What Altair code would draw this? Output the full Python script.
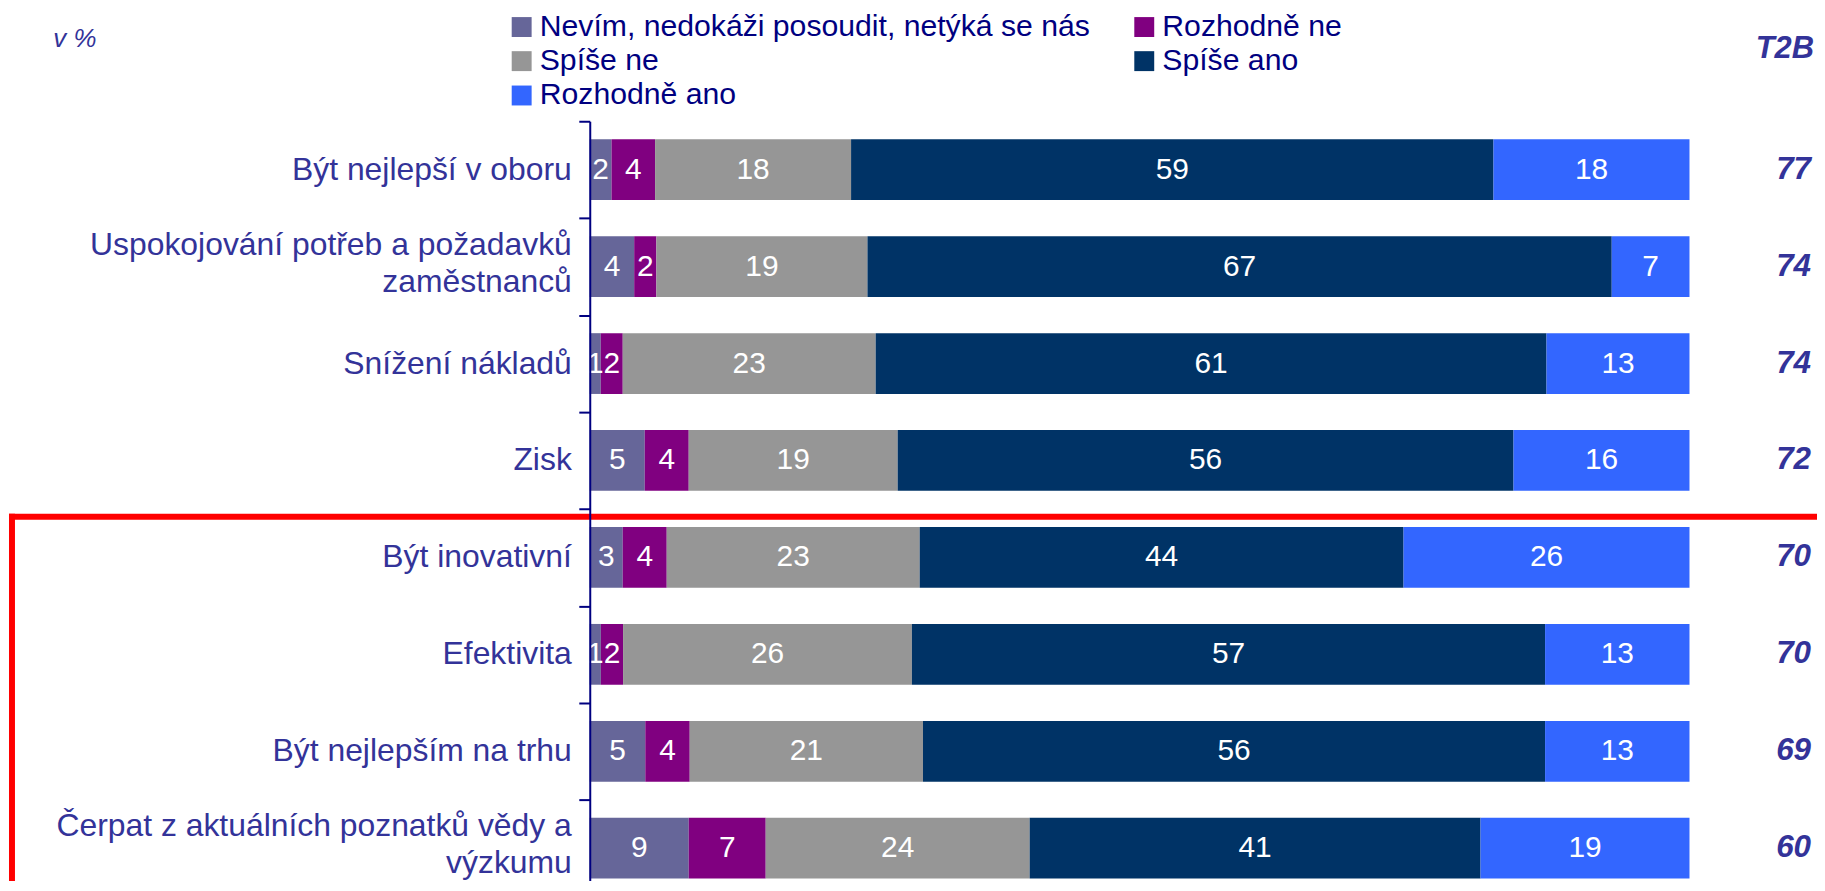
import altair as alt
import pandas as pd

FONT = "Liberation Sans"

categories = [
    "Být nejlepší v oboru",
    "Uspokojování potřeb a požadavků|zaměstnanců",
    "Snížení nákladů",
    "Zisk",
    "Být inovativní",
    "Efektivita",
    "Být nejlepším na trhu",
    "Čerpat z aktuálních poznatků vědy a|výzkumu",
]
series = [
    "Nevím, nedokáži posoudit, netýká se nás",
    "Rozhodně ne",
    "Spíše ne",
    "Spíše ano",
    "Rozhodně ano",
]
colors = ["#666699", "#800080", "#969696", "#003366", "#3366FF"]

nevim = [2, 4, 1, 5, 3, 1, 5, 9]
rozhodne_ne = [4, 2, 2, 4, 4, 2, 4, 7]
spise_ne = [18, 19, 23, 19, 23, 26, 21, 24]
spise_ano = [59, 67, 61, 56, 44, 57, 56, 41]
rozhodne_ano = [18, 7, 13, 16, 26, 13, 13, 19]
t2b = [77, 74, 74, 72, 70, 70, 69, 60]

rows = []
for i, c in enumerate(categories):
    for j, (s, vals) in enumerate(zip(series, [nevim, rozhodne_ne, spise_ne, spise_ano, rozhodne_ano])):
        rows.append({"kategorie": c, "odpoved": s, "poradi": j, "hodnota": vals[i]})
df = pd.DataFrame(rows)
cat_df = pd.DataFrame({"kategorie": categories, "t2b": t2b})

W = 1104
STEP = 97.3
R = STEP * len(categories)
TOP = 112
H_VIEW = 761

y_scale = alt.Scale(domain=categories, range=[0, R], paddingInner=0, paddingOuter=0)
x_scale = alt.Scale(domain=[0, 1], nice=False, zero=True)

y_axis = alt.Axis(
    title="v %", titleAngle=0, titleAlign="left", titleBaseline="alphabetic",
    titleX=-539, titleY=-75, titleFontSize=26, titleFontStyle="italic",
    titleFontWeight="normal", titleColor="#333399", titleFont=FONT,
    labels=False,
    domainColor="#000080", domainWidth=2, tickColor="#000080", tickWidth=2,
    tickSize=11, tickBand="extent", zindex=1,
)

base = alt.Chart(df).transform_stack(
    stack="hodnota", groupby=["kategorie"], as_=["x0", "x1"], offset="normalize",
    sort=[alt.SortField("poradi", order="ascending")],
).transform_calculate(xm="(datum.x0 + datum.x1) / 2")

bars = base.mark_bar(size=61).encode(
    x=alt.X("x0:Q", scale=x_scale, axis=None),
    x2="x1:Q",
    y=alt.Y("kategorie:N", scale=y_scale, axis=y_axis),
    color=alt.Color(
        "odpoved:N",
        scale=alt.Scale(domain=series, range=colors),
        legend=alt.Legend(
            title=None, orient="none", legendX=-83.5, legendY=-110, columns=2,
            direction="horizontal",
            symbolType="square", symbolSize=400, symbolStrokeWidth=0, symbolOpacity=1,
            labelFontSize=30.3, labelColor="#000080", labelFont=FONT,
            columnPadding=39, rowPadding=3.5, labelOffset=3, padding=0, labelLimit=800,
        ),
    ),
)

seg_labels = base.mark_text(color="white", fontSize=30, font=FONT, baseline="middle").encode(
    x=alt.X("xm:Q", scale=x_scale, axis=None),
    y=alt.Y("kategorie:N"),
    text="hodnota:Q",
)

cat_base = alt.Chart(cat_df)
label_style = dict(align="right", baseline="middle", fontSize=32, font=FONT,
                   color="#333399", lineBreak="|", lineHeight=37)
cat_single = cat_base.transform_filter("indexof(datum.kategorie, '|') < 0").mark_text(
    **label_style
).encode(x=alt.value(-18), y=alt.Y("kategorie:N"), text="kategorie:N")
cat_multi = cat_base.transform_filter("indexof(datum.kategorie, '|') >= 0").mark_text(
    dy=-22, **label_style
).encode(x=alt.value(-18), y=alt.Y("kategorie:N"), text="kategorie:N")

t2b_text = cat_base.mark_text(
    align="right", baseline="middle", fontSize=31.5, fontStyle="italic",
    fontWeight="bold", color="#333399", font=FONT,
).encode(
    x=alt.value(1226),
    y=alt.Y("kategorie:N"),
    text="t2b:Q",
)

header = alt.Chart(pd.DataFrame({"t": ["T2B"]})).mark_text(
    align="right", baseline="alphabetic", fontSize=31, fontStyle="italic",
    fontWeight="bold", color="#333399", font=FONT,
).encode(x=alt.value(1229), y=alt.value(-63), text="t:N")

box = pd.DataFrame({"a": [0]})
red_top = alt.Chart(box).mark_rule(color="#FF0000", strokeWidth=6).encode(
    x=alt.value(-583), x2=alt.value(1260), y=alt.value(397)
)
red_left = alt.Chart(box).mark_rule(color="#FF0000", strokeWidth=6).encode(
    x=alt.value(-580), y=alt.value(394), y2=alt.value(900)
)

chart = alt.layer(
    red_top, red_left, bars, seg_labels, cat_single, cat_multi, t2b_text, header
).properties(
    width=W, height=H_VIEW,
    autosize=alt.AutoSizeParams(type="none"),
    padding={"left": 584, "top": TOP, "right": 128, "bottom": 0},
).configure(font=FONT).configure_view(stroke=None)

chart.save("out.html", embed_options={"renderer": "svg", "actions": False})
